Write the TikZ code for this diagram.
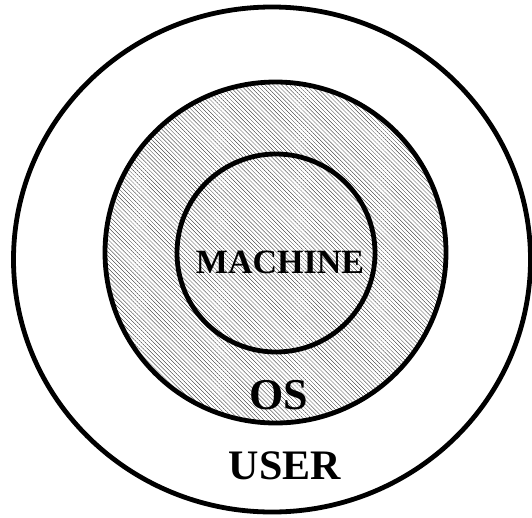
\documentclass[tikz,border=0pt]{standalone}
\usepackage{fontspec}
\setmainfont{Liberation Serif}
\usetikzlibrary{patterns.meta}
\begin{document}
\begin{tikzpicture}[x=1pt,y=-1pt,
  ringline/.style={line width=4.8pt,draw=black},
  hatch/.style={pattern={Lines[angle=-45,distance=2.9pt,line width=0.3pt]},pattern color=black!85},
  lbl/.style={font=\bfseries,inner sep=0pt,anchor=base}]
  \useasboundingbox (0,0) rectangle (532,517);
  % outer layer
  \draw[ringline] (272,259.5) ellipse [x radius=258.5,y radius=252.5];
  % operating-system layer, hatched
  \draw[ringline,hatch] (275.5,252.5) circle [radius=170.5];
  % machine core
  \draw[ringline] (276,253) circle [radius=99];
  \node[lbl,font=\fontsize{34}{34}\selectfont\bfseries] (machine) at (280,273) {MACHINE};
  \node[lbl,font=\fontsize{44}{44}\selectfont\bfseries] (os) at (278.5,409) {OS};
  \node[lbl,font=\fontsize{42}{42}\selectfont\bfseries] (user) at (285,479) {USER};
\end{tikzpicture}
\end{document}
